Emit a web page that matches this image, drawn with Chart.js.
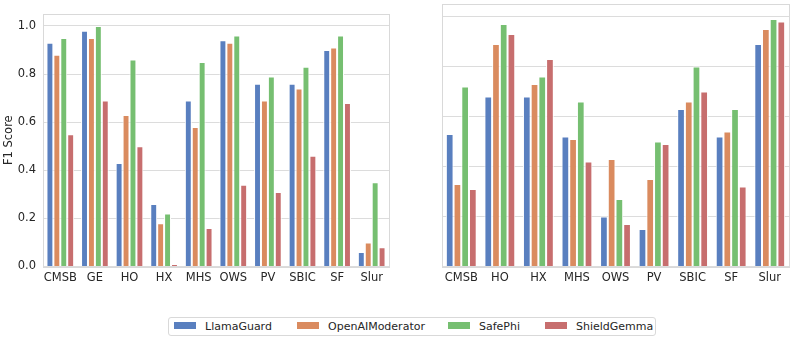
<!DOCTYPE html>
<html>
<head>
<meta charset="utf-8">
<script src="https://cdn.jsdelivr.net/npm/chart.js@4/dist/chart.umd.min.js"></script>
<style>
  body { margin:0; background:#fff; width:793px; height:341px; overflow:hidden; position:relative; font-family:"DejaVu Sans", sans-serif; color:#262626; }
  .kotak { position:absolute; top:0; height:290px; }
  #kiri { left:0; width:395px; }
  #kanan { left:395px; width:398px; }
  #legenda { position:absolute; left:168px; top:317px; width:488px; height:19px; border:1px solid #d9d9d9; border-radius:3px; box-sizing:border-box; font-size:11px; }
  #legenda span.item { position:absolute; top:2px; white-space:nowrap; }
  #legenda i { display:inline-block; width:22px; height:7px; margin-right:9px; vertical-align:1px; }
</style>
</head>
<body>
<div class="kotak" id="kiri"><canvas id="grafikKiri"></canvas></div>
<div class="kotak" id="kanan"><canvas id="grafikKanan"></canvas></div>
<div id="legenda"></div>
<script>
// kategori tiap panel
const kategoriKiri = ['CMSB','GE','HO','HX','MHS','OWS','PV','SBIC','SF','Slur'];
const kategoriKanan = ['CMSB','HO','HX','MHS','OWS','PV','SBIC','SF','Slur'];
const namaModel = ['LlamaGuard','OpenAIModerator','SafePhi','ShieldGemma'];
const warnaModel = ['#597fbf','#da8b5f','#76bf71','#c76e6e'];

// panel kiri
const llamaKiri  = [0.93, 0.98, 0.43, 0.26, 0.69, 0.94, 0.76, 0.76, 0.90, 0.06];
const openaiKiri = [0.88, 0.95, 0.63, 0.18, 0.58, 0.93, 0.69, 0.74, 0.91, 0.10];
const phiKiri    = [0.95, 1.00, 0.86, 0.22, 0.85, 0.96, 0.79, 0.83, 0.96, 0.35];
const gemmaKiri  = [0.55, 0.69, 0.50, 0.01, 0.16, 0.34, 0.31, 0.46, 0.68, 0.08];

// panel kanan
const llamaKanan  = [0.53, 0.68, 0.68, 0.52, 0.20, 0.15, 0.63, 0.52, 0.89];
const openaiKanan = [0.33, 0.89, 0.73, 0.51, 0.43, 0.35, 0.66, 0.54, 0.95];
const phiKanan    = [0.72, 0.97, 0.76, 0.66, 0.27, 0.50, 0.80, 0.63, 0.99];
const gemmaKanan  = [0.31, 0.93, 0.83, 0.42, 0.17, 0.49, 0.70, 0.32, 0.98];

const yTicks = [0, 0.2, 0.4, 0.6, 0.8, 1.0];
const fontDasar = { family: 'DejaVu Sans', size: 11.5 };
Chart.defaults.color = '#262626';

// garis bingkai di sekeliling area plot
const bingkai = {
    id: 'bingkai',
    afterDraw(chart) {
        const a = chart.chartArea, ctx = chart.ctx;
        ctx.save(); ctx.strokeStyle = '#d9d9d9'; ctx.lineWidth = 1;
        ctx.strokeRect(Math.round(a.left) + 0.5, Math.round(a.top) + 0.5, Math.round(a.right - a.left), Math.round(a.bottom - a.top));
        ctx.restore();
    }
};

function buatGrafik(id, kategori, seri, tampilSumbuY, lebarY, padKanan) {
    return new Chart(document.getElementById(id), {
        type: 'bar',
        data: {
            labels: kategori,
            datasets: seri.map((d, i) => ({
                label: namaModel[i], data: d, backgroundColor: warnaModel[i],
                borderColor: '#ffffff', borderWidth: 1, borderSkipped: 'bottom',
                categoryPercentage: 0.8, barPercentage: 1.0
            }))
        },
        options: {
            responsive: true, maintainAspectRatio: false, animation: false,
            layout: { padding: { top: 4, right: padKanan, left: 0, bottom: 0 } },
            plugins: { legend: { display: false }, tooltip: { enabled: false } },
            scales: {
                x: {
                    grid: { display: false, drawTicks: false },
                    border: { display: false },
                    ticks: { font: fontDasar, padding: 5, color: '#262626', maxRotation: 0, minRotation: 0, autoSkip: false },
                    afterFit(s) { s.height = 23.5; }
                },
                y: {
                    min: 0, max: 1.05,
                    afterBuildTicks(s) { s.ticks = yTicks.map(v => ({ value: v })); },
                    grid: { color: '#dcdcdc', lineWidth: 1, drawTicks: false },
                    border: { display: false },
                    ticks: { display: tampilSumbuY, font: fontDasar, padding: 7, color: '#262626', callback: v => v.toFixed(1) },
                    title: { display: tampilSumbuY, text: 'F1 Score', font: fontDasar, color: '#262626', padding: { top: 2, bottom: 0 } },
                    afterFit(s) { s.width = lebarY; }
                }
            }
        },
        plugins: [bingkai]
    });
}

buatGrafik('grafikKiri', kategoriKiri, [llamaKiri, openaiKiri, phiKiri, gemmaKiri], true, 43, 6);
buatGrafik('grafikKanan', kategoriKanan, [llamaKanan, openaiKanan, phiKanan, gemmaKanan], false, 47, 4);

// legenda bersama di bawah
const posisiLegenda = [5, 128, 279, 376];
const legenda = document.getElementById('legenda');
namaModel.forEach((n, i) => {
    const el = document.createElement('span');
    el.className = 'item'; el.style.left = posisiLegenda[i] + 'px';
    el.innerHTML = `<i style="background:${warnaModel[i]}"></i>${n}`;
    legenda.appendChild(el);
});
</script>
</body>
</html>
